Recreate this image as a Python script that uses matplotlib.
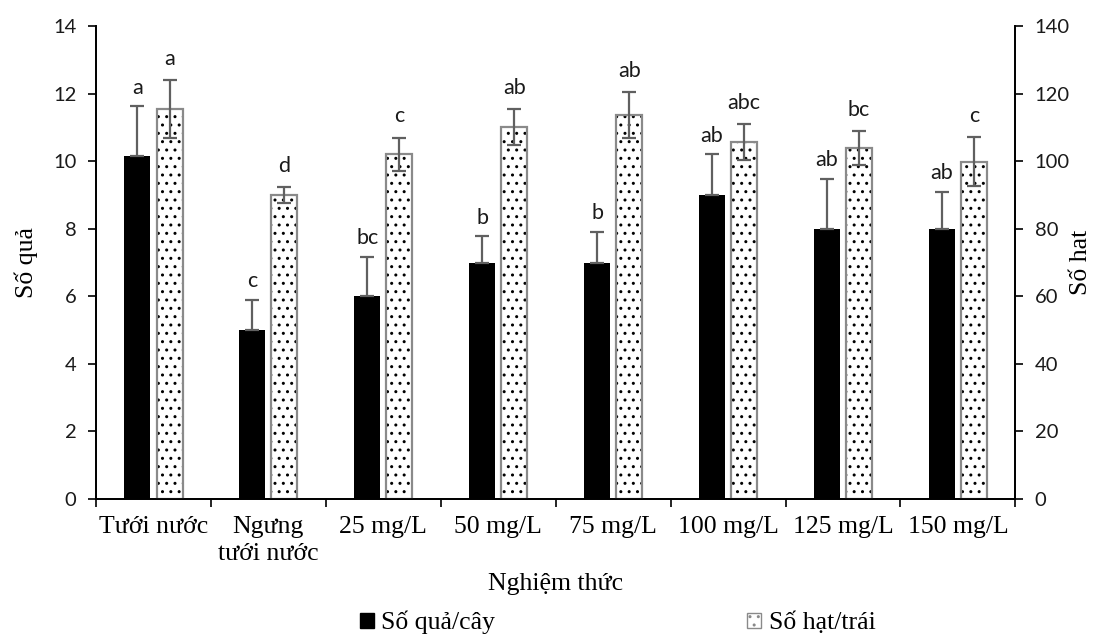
import numpy as np
import matplotlib
matplotlib.use("Agg")
import matplotlib.pyplot as plt
from matplotlib.patches import Patch

categories = ["Tưới nước", "Ngưng\ntưới nước", "25 mg/L", "50 mg/L", "75 mg/L",
              "100 mg/L", "125 mg/L", "150 mg/L"]
so_qua = [10.15, 5.0, 6.0, 7.0, 7.0, 9.0, 8.0, 8.0]
so_qua_err = [1.47, 0.89, 1.17, 0.77, 0.9, 1.2, 1.47, 1.08]
so_qua_letters = ["a", "c", "bc", "b", "b", "ab", "ab", "ab"]
so_hat = [115.5, 90.0, 102.0, 110.0, 113.7, 105.7, 104.0, 99.8]
so_hat_err = [8.6, 2.3, 5.0, 5.3, 6.8, 5.3, 5.0, 7.3]
so_hat_letters = ["a", "d", "c", "ab", "ab", "abc", "bc", "c"]

serif = ["Liberation Serif", "DejaVu Serif"]
sans = ["Lato", "DejaVu Sans"]

fig = plt.figure(figsize=(11.01, 6.38), dpi=100)
ax = fig.add_axes([0.0872, 0.2179, 0.835, 0.7413])
ax2 = ax.twinx()

x = np.arange(len(categories))
w = 0.226
off = 0.14
errc = "#606060"

ax.bar(x - off, so_qua, w, color="black", zorder=2)
ax.errorbar(x - off, so_qua, yerr=[np.zeros(len(x)), so_qua_err], fmt="none",
            ecolor=errc, elinewidth=1.6, capsize=5, capthick=1.6, zorder=3)

ax2.bar(x + off, so_hat, w, facecolor="white", edgecolor="black", hatch="..",
        linewidth=0, zorder=2)
ax2.bar(x + off, so_hat, w, fill=False, edgecolor="#8a8a8a", linewidth=1.6, zorder=2.5)
ax2.errorbar(x + off, so_hat, yerr=so_hat_err, fmt="none",
             ecolor=errc, elinewidth=1.6, capsize=5, capthick=1.6, zorder=3)

for xi, v, e, t in zip(x, so_qua, so_qua_err, so_qua_letters):
    ax.text(xi - off, v + e + 0.26, t, ha="center", va="bottom",
            fontsize=15.5, family=sans, color="#1a1a1a")
for xi, v, e, t in zip(x, so_hat, so_hat_err, so_hat_letters):
    ax2.text(xi + off, v + e + 3.3, t, ha="center", va="bottom",
             fontsize=15.5, family=sans, color="#1a1a1a")

ax.set_xlim(-0.5, len(categories) - 0.5)
ax.set_ylim(0, 14)
ax2.set_ylim(0, 140)
ax.set_yticks(np.arange(0, 15, 2))
ax2.set_yticks(np.arange(0, 141, 20))

ax.set_xticks(x)
ax.set_xticklabels(categories, family=serif, fontsize=18.5, linespacing=1.3)
ax.set_xticks(np.arange(-0.5, len(categories), 1), minor=True)
ax.tick_params(axis="x", which="major", length=0, pad=12)
ax.tick_params(axis="x", which="minor", length=6, width=1.2, direction="out")

for a in (ax, ax2):
    a.spines["top"].set_visible(False)
    for s in ("left", "right", "bottom"):
        a.spines[s].set_linewidth(1.3)
ax.tick_params(axis="y", length=6, width=1.2, direction="out", labelsize=14.5, pad=8)
ax2.tick_params(axis="y", length=6, width=1.2, direction="out", labelsize=14.5, pad=8)
for lab in ax.get_yticklabels() + ax2.get_yticklabels():
    lab.set_family(sans)
    lab.set_color("#1a1a1a")

ax.set_ylabel("Số quả", family=serif, fontsize=18.5, labelpad=11)
ax2.set_ylabel("Số hat", family=serif, fontsize=18.5, labelpad=0)
ax.set_xlabel("Nghiệm thức", family=serif, fontsize=18.5, labelpad=6)

handles = [Patch(facecolor="black", edgecolor="black", label="Số quả/cây"),
           Patch(facecolor="white", edgecolor="#8a8a8a", hatch="..", label="Số hạt/trái")]
fig.legend(handles=handles, loc="center", bbox_to_anchor=(0.561, 0.024), ncol=2,
           frameon=False, prop={"family": serif, "size": 18.5}, columnspacing=9.8,
           handlelength=0.55, handleheight=0.55, handletextpad=0.3)

fig.savefig("out.png", dpi=100)
